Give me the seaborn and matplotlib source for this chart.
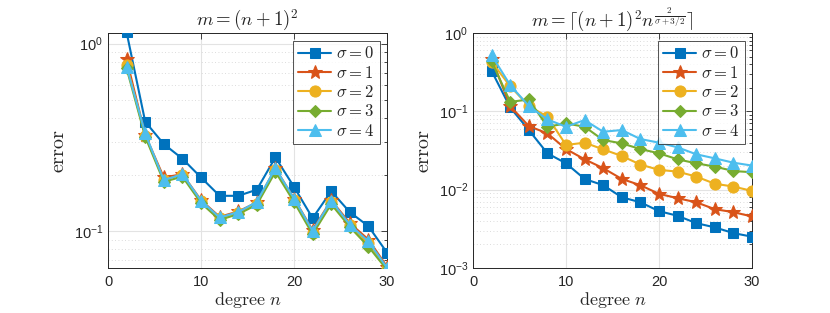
import numpy as np
import pandas as pd
import matplotlib
matplotlib.use("Agg")
import matplotlib.pyplot as plt
import seaborn as sns
from matplotlib.ticker import LogLocator, NullFormatter

degrees = [2, 4, 6, 8, 10, 12, 14, 16, 18, 20, 22, 24, 26, 28, 30]

# Left panel: m = (n+1)^2
left_s0 = [1.15, 0.383, 0.291, 0.243, 0.193, 0.154, 0.154, 0.166, 0.247, 0.172, 0.117, 0.163, 0.126, 0.106, 0.0766]
left_s1 = [0.825, 0.326, 0.193, 0.201, 0.146, 0.119, 0.127, 0.142, 0.216, 0.149, 0.101, 0.146, 0.110, 0.090, 0.0645]
left_s2 = [0.769, 0.322, 0.188, 0.199, 0.144, 0.117, 0.125, 0.140, 0.212, 0.146, 0.098, 0.142, 0.107, 0.086, 0.0630]
left_s3 = [0.738, 0.319, 0.183, 0.195, 0.141, 0.1145, 0.123, 0.138, 0.207, 0.143, 0.096, 0.139, 0.105, 0.0825, 0.0620]
left_s4 = [0.754, 0.332, 0.187, 0.201, 0.145, 0.118, 0.126, 0.143, 0.216, 0.149, 0.100, 0.145, 0.108, 0.088, 0.0636]

# Right panel: m = ceil((n+1)^2 n^(2/(sigma+3/2)))
right_s0 = [0.328, 0.112, 0.0577, 0.0291, 0.0217, 0.0137, 0.0114, 0.0080, 0.0069, 0.00532, 0.00464, 0.00374, 0.0033, 0.00279, 0.00251]
right_s1 = [0.471, 0.1165, 0.0648, 0.0523, 0.033, 0.0244, 0.0188, 0.0137, 0.0114, 0.00884, 0.00778, 0.0069, 0.00564, 0.00516, 0.00455]
right_s2 = [0.428, 0.209, 0.117, 0.0853, 0.0372, 0.0398, 0.0327, 0.0269, 0.0209, 0.0179, 0.0170, 0.0147, 0.0119, 0.01096, 0.00964]
right_s3 = [0.436, 0.132, 0.1417, 0.0636, 0.0701, 0.0636, 0.0430, 0.0390, 0.0330, 0.0291, 0.0244, 0.0217, 0.0197, 0.0173, 0.0167]
right_s4 = [0.520, 0.216, 0.117, 0.0788, 0.0636, 0.0773, 0.0549, 0.0577, 0.0443, 0.0398, 0.0347, 0.0283, 0.0251, 0.0221, 0.0203]

sigma_labels = [r'$\sigma=0$', r'$\sigma=1$', r'$\sigma=2$', r'$\sigma=3$', r'$\sigma=4$']
colors = ['#0072BD', '#D95319', '#EDB120', '#77AC30', '#4DBEEE']
marker_list = ['s', '*', 'o', 'D', '^']
marker_sizes = [7, 10, 8, 6.5, 8.5]

left_title = r'$m=(n+1)^2$'
right_title = r'$m=\lceil(n+1)^2n^{\frac{2}{\sigma+3/2}}\rceil$'


def long_frame(series):
    rows = []
    for lab, vals in zip(sigma_labels, series):
        for n, v in zip(degrees, vals):
            rows.append({'n': n, 'error': v, 'sigma': lab})
    return pd.DataFrame(rows)


sns.set_theme(style='white')
plt.rcParams['font.family'] = ['Liberation Sans', 'DejaVu Sans']
plt.rcParams['mathtext.fontset'] = 'cm'

fig = plt.figure(figsize=(8.30, 3.13), dpi=100)
W, H = 830, 313
ax1 = fig.add_axes([108 / W, 1 - 268 / H, (387 - 108) / W, (268 - 33) / H])
ax2 = fig.add_axes([473 / W, 1 - 268 / H, (752 - 473) / W, (268 - 33) / H])

panels = [
    (ax1, [left_s0, left_s1, left_s2, left_s3, left_s4], left_title, (0.0634, 1.14)),
    (ax2, [right_s0, right_s1, right_s2, right_s3, right_s4], right_title, (1e-3, 1.0)),
]

axis_col = '#262626'
for ax, series, title, ylim in panels:
    df = long_frame(series)
    for lab, col, mk, ms in zip(sigma_labels, colors, marker_list, marker_sizes):
        sub = df[df['sigma'] == lab]
        sns.lineplot(data=sub, x='n', y='error', ax=ax, color=col, marker=mk,
                     markersize=ms, linewidth=1.5, markeredgecolor=col,
                     label=lab, legend=True, zorder=3)
    ax.set_yscale('log')
    ax.set_xlim(0, 30)
    ax.set_ylim(*ylim)
    ax.set_xticks([0, 10, 20, 30])
    ax.yaxis.set_major_locator(LogLocator(base=10, numticks=10))
    ax.yaxis.set_minor_locator(LogLocator(base=10, subs=np.arange(2, 10), numticks=100))
    ax.yaxis.set_minor_formatter(NullFormatter())
    ax.grid(True, which='major', color='#e3e3e3', linestyle='-', linewidth=0.8)
    ax.grid(True, which='minor', axis='y', color='#d0d0d0', linestyle=(0, (1, 3)), linewidth=0.6)
    ax.tick_params(which='both', direction='in', top=True, right=True, colors=axis_col,
                   labelsize=10.5, length=4, width=0.6)
    ax.tick_params(which='minor', length=2)
    ax.tick_params(axis='x', pad=5)
    for sp in ax.spines.values():
        sp.set_color(axis_col)
        sp.set_linewidth(0.7)
    ax.set_title(title, fontsize=13.5, pad=5)
    ax.set_xlabel(r'$\mathrm{degree}\ n$', fontsize=13, labelpad=1)
    ax.set_ylabel(r'$\mathrm{error}$', fontsize=14.5, labelpad=4)
    leg = ax.legend(loc='upper right', fontsize=12, frameon=True, fancybox=False,
                    borderpad=0.3, labelspacing=0.2, handlelength=2.0,
                    handletextpad=0.3, borderaxespad=0.45)
    leg.get_frame().set_edgecolor(axis_col)
    leg.get_frame().set_linewidth(0.7)
    leg.set_zorder(5)

ax1.set_yticks([1e-1, 1e0])

fig.savefig('out.png', dpi=100)
